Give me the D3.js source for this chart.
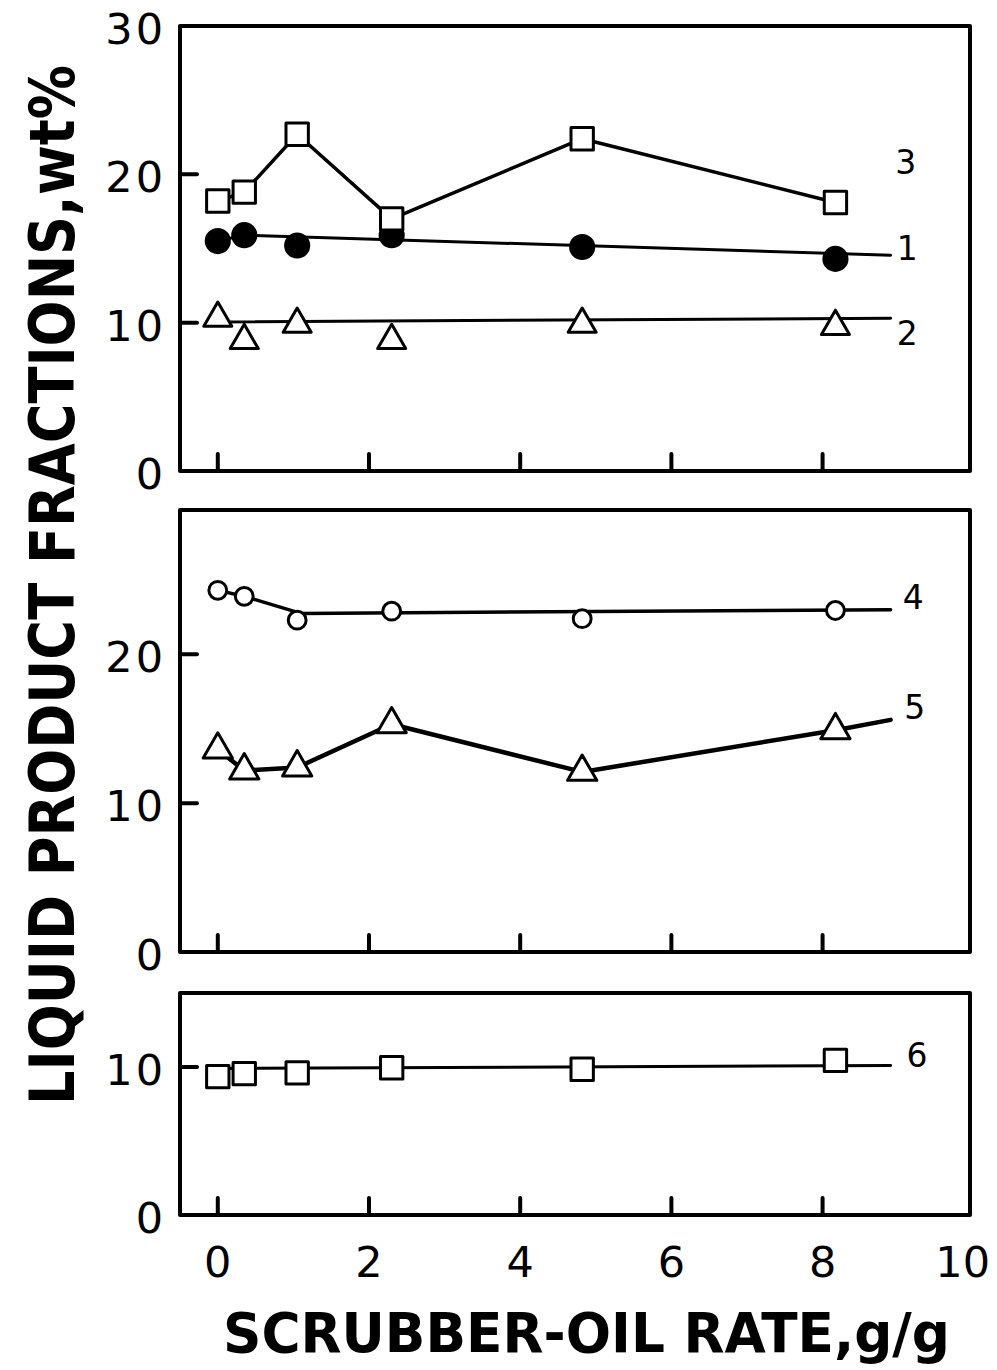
<!DOCTYPE html>
<html>
<head>
<meta charset="utf-8">
<script src="https://cdn.jsdelivr.net/npm/d3@7"></script>
<style>
  body { margin: 0; background: #fff; }
  svg { display: block; }
  .tick-label { font-family: "DejaVu Sans", sans-serif; font-size: 43px; fill: #000; }
  .series-label { font-family: "DejaVu Sans", sans-serif; font-size: 33px; fill: #000; }
  .axis-title { font-family: "DejaVu Sans Condensed", "Liberation Sans Narrow", "DejaVu Sans", sans-serif; font-weight: bold; fill: #000; }
</style>
</head>
<body>
<div id="chart"></div>
<script>
// Scrubber-oil rate (g/g) shared by all six series
const rateX = [0, 0.35, 1.05, 2.3, 4.82, 8.17];

// Liquid product fractions, wt%
const series1 = [15.5, 15.9, 15.2, 15.9, 15.1, 14.3];
const series2 = [10.3, 8.8, 9.9, 8.8, 9.9, 9.75];
const series3 = [18.2, 18.8, 22.7, 17.0, 22.4, 18.1];
const series4 = [24.3, 23.9, 22.3, 22.9, 22.4, 22.95];
const series5 = [13.6, 12.2, 12.4, 15.3, 12.1, 14.9];
const series6 = [9.35, 9.55, 9.6, 9.95, 9.85, 10.45];

// hand drawn curves through the points, [rate, wt%]
const curve1 = [[0, 15.5], [0.35, 15.9], [8.9, 14.55]];
const curve2 = [[0, 10.05], [8.9, 10.3]];
const curve4 = [[0, 24.3], [0.35, 23.9], [1.1, 22.75], [8.9, 23.0]];
const curve5end = [8.9, 15.6];
const curve6 = [[0, 9.9], [8.9, 10.1]];

// curve numbers, placed at [rate, wt%]
const curveNames = ["1", "2", "3", "4", "5", "6"];
const namePos = [[9.12, 15.0], [9.12, 9.3], [9.1, 20.8], [9.2, 23.8], [9.22, 16.4], [9.25, 10.8]];

// axis ticks
const xTicks = [0, 2, 4, 6, 8];
const xTickLabels = [0, 2, 4, 6, 8, 10];
const yTicksTop = [10, 20];
const yLabelsTop = [0, 10, 20, 30];
const yTicksMid = [10, 20];
const yLabelsMid = [0, 10, 20];
const yTicksBot = [10];
const yLabelsBot = [0, 10];

const width = 997;
const height = 1370;

const svg = d3.select("#chart").append("svg")
    .attr("width", width)
    .attr("height", height);

// one x scale for all three stacked panels
const x = d3.scaleLinear().domain([-0.5, 9.95]).range([180, 970]);

// three panels, same wt% per pixel
const panels = [
    { top: 26, bottom: 471, yMax: 30, ticks: yTicksTop, labels: yLabelsTop },
    { top: 510, bottom: 952, yMax: 29.7, ticks: yTicksMid, labels: yLabelsMid },
    { top: 993, bottom: 1215, yMax: 15, ticks: yTicksBot, labels: yLabelsBot }
];
panels.forEach(p => {
    p.y = d3.scaleLinear().domain([0, p.yMax]).range([p.bottom, p.top]);
});

const tickLen = 17;

function drawPanel(p) {
    const g = svg.append("g");

    // frame
    g.append("rect")
        .attr("x", x.range()[0])
        .attr("y", p.top)
        .attr("width", x.range()[1] - x.range()[0])
        .attr("height", p.bottom - p.top)
        .attr("fill", "none")
        .attr("stroke", "#000")
        .attr("stroke-width", 4)
        .attr("stroke-linejoin", "round");

    // inward ticks on the bottom
    g.selectAll(".xtick")
        .data(xTicks)
        .enter().append("line")
        .attr("x1", d => x(d)).attr("x2", d => x(d))
        .attr("y1", p.bottom).attr("y2", p.bottom - tickLen)
        .attr("stroke", "#000")
        .attr("stroke-width", 4)
        .attr("stroke-linecap", "round");

    // inward ticks on the left
    g.selectAll(".ytick")
        .data(p.ticks)
        .enter().append("line")
        .attr("x1", x.range()[0]).attr("x2", x.range()[0] + tickLen)
        .attr("y1", d => p.y(d)).attr("y2", d => p.y(d))
        .attr("stroke", "#000")
        .attr("stroke-width", 4)
        .attr("stroke-linecap", "round");

    g.selectAll(".ylabel")
        .data(p.labels)
        .enter().append("text")
        .attr("class", "tick-label")
        .attr("x", 166)
        .attr("y", d => p.y(d) + 3)
        .attr("text-anchor", "end")
        .attr("dominant-baseline", "central")
        .attr("letter-spacing", 3)
        .text(d => d);

    return g;
}

const gTop = drawPanel(panels[0]);
const gMid = drawPanel(panels[1]);
const gBot = drawPanel(panels[2]);

function drawCurve(g, p, pts, w) {
    const line = d3.line().x(d => x(d[0])).y(d => p.y(d[1]));
    g.append("path")
        .attr("d", line(pts))
        .attr("fill", "none")
        .attr("stroke", "#000")
        .attr("stroke-width", w)
        .attr("stroke-linejoin", "round")
        .attr("stroke-linecap", "round");
}

function drawMarkers(g, p, values, type, size, filled) {
    const sym = d3.symbol().type(type).size(size);
    g.selectAll(null)
        .data(values)
        .enter().append("path")
        .attr("d", sym)
        .attr("transform", (d, i) => "translate(" + x(rateX[i]) + "," + p.y(d) + ")")
        .attr("fill", filled ? "#000" : "#fff")
        .attr("stroke", "#000")
        .attr("stroke-width", 3)
        .attr("stroke-linejoin", "round");
}

const zip = vals => vals.map((v, i) => [rateX[i], v]);

// top panel: curves 1, 2, 3
drawCurve(gTop, panels[0], curve1, 3);
drawCurve(gTop, panels[0], curve2, 3);
drawCurve(gTop, panels[0], zip(series3), 3.5);
drawMarkers(gTop, panels[0], series1, d3.symbolCircle, 420, true);
drawMarkers(gTop, panels[0], series3, d3.symbolSquare, 500, false);
drawMarkers(gTop, panels[0], series2, d3.symbolTriangle, 340, false);

// middle panel: curves 4, 5
drawCurve(gMid, panels[1], curve4, 3.5);
drawCurve(gMid, panels[1], zip(series5).concat([curve5end]), 4.5);
drawMarkers(gMid, panels[1], series4, d3.symbolCircle, 250, false);
drawMarkers(gMid, panels[1], series5, d3.symbolTriangle, 370, false);

// bottom panel: curve 6
drawCurve(gBot, panels[2], curve6, 3);
drawMarkers(gBot, panels[2], series6, d3.symbolSquare, 500, false);

// curve numbers
const namePanel = [0, 0, 0, 1, 1, 2];
svg.selectAll(".series-label")
    .data(curveNames)
    .enter().append("text")
    .attr("class", "series-label")
    .attr("x", (d, i) => x(namePos[i][0]))
    .attr("y", (d, i) => panels[namePanel[i]].y(namePos[i][1]))
    .attr("text-anchor", "middle")
    .attr("dominant-baseline", "central")
    .text(d => d);

// x tick labels under the bottom panel (the last one kept inside the page)
svg.selectAll(".xlabel")
    .data(xTickLabels)
    .enter().append("text")
    .attr("class", "tick-label")
    .attr("x", d => d === 10 ? 990 : x(d))
    .attr("y", 1262)
    .attr("text-anchor", d => d === 10 ? "end" : "middle")
    .attr("dominant-baseline", "central")
    .text(d => d);

// axis titles
svg.append("text")
    .attr("class", "axis-title")
    .attr("x", 223)
    .attr("y", 1352)
    .attr("font-size", 55)
    .attr("textLength", 727)
    .attr("lengthAdjust", "spacingAndGlyphs")
    .text("SCRUBBER-OIL RATE,g/g");

svg.append("text")
    .attr("class", "axis-title")
    .attr("transform", "translate(74,1105) rotate(-90)")
    .attr("font-size", 62)
    .attr("textLength", 1040)
    .attr("lengthAdjust", "spacingAndGlyphs")
    .text("LIQUID PRODUCT FRACTIONS,wt%");
</script>
</body>
</html>
